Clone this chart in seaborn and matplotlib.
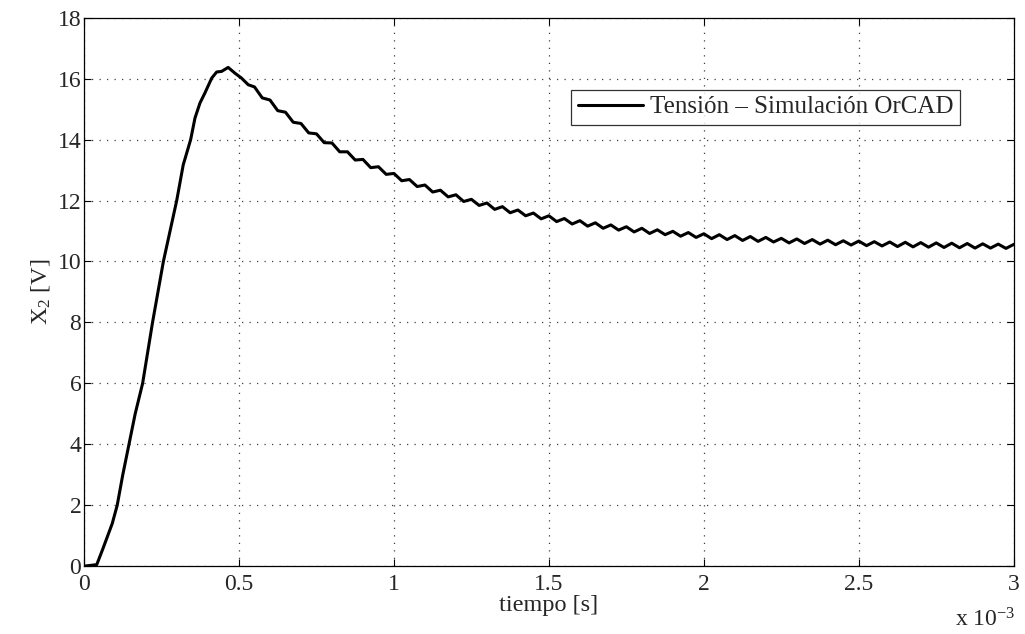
import numpy as np
import pandas as pd
import matplotlib
matplotlib.use("Agg")
import matplotlib.pyplot as plt
from matplotlib.ticker import FuncFormatter
import seaborn as sns

# tiempo en ms (eje x se muestra como x 10^-3 s)
t_rise = [0, 0.041, 0.06, 0.091, 0.107, 0.125, 0.145, 0.165, 0.189, 0.205, 0.221,
          0.256, 0.299, 0.320, 0.344, 0.358, 0.374, 0.390, 0.412, 0.428, 0.444,
          0.465, 0.487, 0.508, 0.530]
v_rise = [0, 0.05, 0.55, 1.40, 2.0, 3.0, 4.0, 5.0, 6.0, 7.0, 8.0,
          10.0, 12.0, 13.17, 14.0, 14.71, 15.2, 15.53, 16.02, 16.22, 16.24,
          16.37, 16.18, 16.02, 15.8]

# tramo con rizado: crestas y valles
t_ripple = [0.550, 0.575, 0.600, 0.625, 0.650, 0.675, 0.700, 0.725, 0.750, 0.775,
            0.800, 0.825, 0.850, 0.875, 0.900, 0.925, 0.950, 0.975, 1.000, 1.025,
            1.050, 1.075, 1.100, 1.125, 1.150, 1.175, 1.200, 1.225, 1.250, 1.275,
            1.300, 1.325, 1.350, 1.375, 1.400, 1.425, 1.450, 1.475, 1.500, 1.525,
            1.550, 1.575, 1.600, 1.625, 1.650, 1.675, 1.700, 1.725, 1.750, 1.775,
            1.800, 1.825, 1.850, 1.875, 1.900, 1.925, 1.950, 1.975, 2.000, 2.025,
            2.050, 2.075, 2.100, 2.125, 2.150, 2.175, 2.200, 2.225, 2.250, 2.275,
            2.300, 2.325, 2.350, 2.375, 2.400, 2.425, 2.450, 2.475, 2.500, 2.525,
            2.550, 2.575, 2.600, 2.625, 2.650, 2.675, 2.700, 2.725, 2.750, 2.775,
            2.800, 2.825, 2.850, 2.875, 2.900, 2.925, 2.950, 2.975, 3.000]
v_ripple = [15.73, 15.37, 15.30, 14.95, 14.90, 14.57, 14.53, 14.22, 14.19, 13.90,
            13.89, 13.60, 13.60, 13.33, 13.35, 13.08, 13.11, 12.86, 12.89, 12.65,
            12.69, 12.46, 12.51, 12.28, 12.34, 12.12, 12.19, 11.97, 12.04, 11.84,
            11.92, 11.71, 11.80, 11.60, 11.69, 11.50, 11.59, 11.40, 11.50, 11.31,
            11.41, 11.23, 11.34, 11.16, 11.27, 11.09, 11.20, 11.03, 11.14, 10.97,
            11.09, 10.92, 11.04, 10.88, 10.99, 10.83, 10.95, 10.79, 10.91, 10.75,
            10.88, 10.72, 10.85, 10.69, 10.82, 10.66, 10.79, 10.64, 10.76, 10.61,
            10.74, 10.59, 10.72, 10.57, 10.70, 10.55, 10.68, 10.54, 10.67, 10.52,
            10.65, 10.51, 10.64, 10.49, 10.63, 10.48, 10.62, 10.47, 10.61, 10.46,
            10.60, 10.45, 10.59, 10.44, 10.58, 10.44, 10.57, 10.43, 10.56]

xticks = [0, 0.5, 1, 1.5, 2, 2.5, 3]
yticks = [0, 2, 4, 6, 8, 10, 12, 14, 16, 18]

data = pd.DataFrame({"t": t_rise + t_ripple, "v": v_rise + v_ripple})

sns.set_style("ticks")
plt.rcParams['font.family'] = ['Liberation Serif', 'DejaVu Serif']
plt.rcParams['mathtext.fontset'] = 'custom'
plt.rcParams['mathtext.rm'] = 'Liberation Serif'
plt.rcParams['mathtext.it'] = 'Liberation Serif:italic'
plt.rcParams['xtick.direction'] = 'in'
plt.rcParams['ytick.direction'] = 'in'

fig = plt.figure(figsize=(10.25, 6.34), dpi=100)
ax = fig.add_axes([0.082, 0.107, 0.907, 0.865])

sns.lineplot(data=data, x="t", y="v", ax=ax, color="black", lw=2.2,
             estimator=None, sort=False, label="Tensión – Simulación OrCAD",
             solid_joinstyle="round", solid_capstyle="round")

ax.set_xlim(0, 3)
ax.set_ylim(0, 18)
ax.set_xticks(xticks)
ax.set_yticks(yticks)
ax.xaxis.set_major_formatter(FuncFormatter(lambda v, p: f"{v:g}"))
ax.tick_params(labelsize=17, top=True, right=True, length=5, width=0.8, color="black")
ax.tick_params(axis="x", pad=6)
ax.tick_params(axis="y", pad=2)
ax.grid(True, color="0.25", linestyle=(0, (1, 5)), lw=0.9)
for s in ax.spines.values():
    s.set_color("black")
    s.set_linewidth(0.9)

ax.set_xlabel("tiempo [s]", fontsize=17.5, labelpad=0)
ax.set_ylabel("X$_\\mathregular{2}$ [V]", fontsize=17.5, labelpad=4)
fig.text(0.932, 0.012, "x 10$^{\\mathregular{-3}}$", fontsize=17)

leg = ax.legend(loc="upper right", bbox_to_anchor=(0.942, 0.869), fontsize=18,
                frameon=True, fancybox=False, edgecolor="black", borderaxespad=0,
                handlelength=2.6, borderpad=0.25, handletextpad=0.3)
leg.get_frame().set_linewidth(0.9)

fig.savefig("out.png", dpi=100)
